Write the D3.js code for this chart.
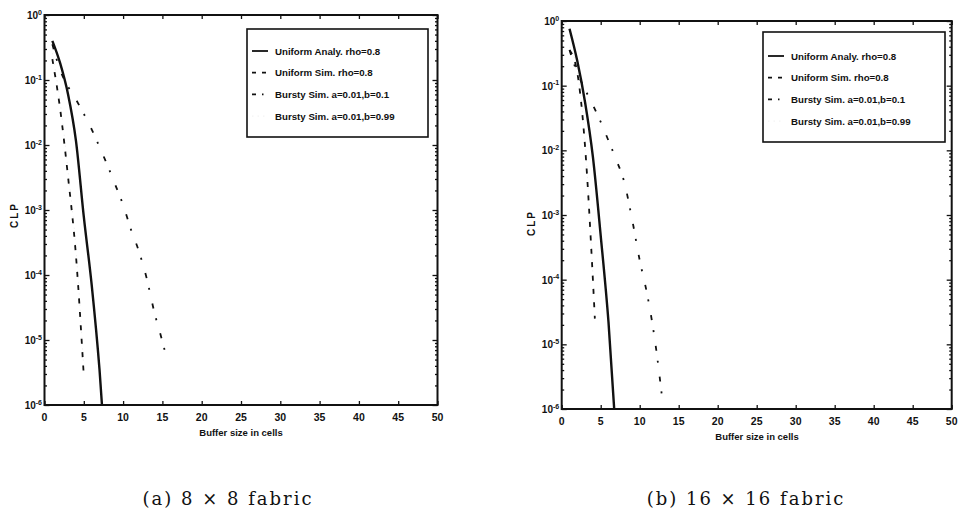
<!DOCTYPE html>
<html>
<head>
<meta charset="utf-8">
<script src="https://cdn.jsdelivr.net/npm/d3@7"></script>
<style>
  html, body { margin: 0; padding: 0; background: #fff; }
  svg { display: block; }
  .lab { font-family: "Liberation Sans", Arial, sans-serif; font-weight: bold; fill: #111; }
  .cap { font-family: "DejaVu Serif", serif; fill: #111; }
</style>
</head>
<body>
<svg id="fig" width="959" height="521"></svg>
<script>
// ---- shared labels ----
const seriesNames = [
  "Uniform Analy. rho=0.8",
  "Uniform Sim. rho=0.8",
  "Bursty Sim. a=0.01,b=0.1",
  "Bursty Sim. a=0.01,b=0.99"
];
const xTicks = [0, 5, 10, 15, 20, 25, 30, 35, 40, 45, 50];
const yTickExponents = [0, -1, -2, -3, -4, -5, -6];
const xLabel = "Buffer size in cells";
const yLabel = "CLP";
const captions = ["(a) 8 \u00d7 8 fabric", "(b) 16 \u00d7 16 fabric"];

// ---- (a) 8 x 8 fabric: cell loss probability vs buffer size ----
const a_analyX  = [1, 2, 3, 4, 5, 6, 7, 8];
const a_analyY  = [0.40, 0.18, 0.060, 0.0117, 7.9e-4, 7.1e-5, 3.5e-6, 6.3e-8];
const a_uniSimX = [1, 2, 3, 4, 5];
const a_uniSimY = [0.21, 0.035, 3.2e-3, 2.0e-4, 2.8e-6];
const a_burst1X = [1, 2, 3, 4, 5, 6, 7, 8, 9, 10, 11, 12, 13, 14, 15, 15.5];
const a_burst1Y = [0.355, 0.141, 0.0794, 0.0501, 0.0302, 0.0174, 0.00933, 0.0049,
                   0.00245, 0.0012, 5.0e-4, 2.34e-4, 8.9e-5, 2.6e-5, 9.5e-6, 5.5e-6];
const a_burst2X = [1, 2, 3, 4, 5];
const a_burst2Y = [0.26, 0.045, 4.0e-3, 2.6e-4, 3.5e-6];

// ---- (b) 16 x 16 fabric ----
const b_analyX  = [1, 2, 3, 4, 5, 6, 7];
const b_analyY  = [0.76, 0.24, 0.055, 7.9e-3, 4.8e-4, 2.2e-5, 3.2e-7];
const b_uniSimX = [1, 2, 3, 4, 4.25];
const b_uniSimY = [0.355, 0.158, 0.0112, 1.0e-4, 2.5e-5];
const b_burst1X = [1, 2, 3, 4, 5, 6, 7, 8, 9, 10, 11, 12, 13];
const b_burst1Y = [0.355, 0.158, 0.087, 0.050, 0.0275, 0.0141, 0.0071, 0.0033,
                   8.9e-4, 2.0e-4, 5.6e-5, 1.05e-5, 1.1e-6];
const b_burst2X = [1, 2, 3, 4];
const b_burst2Y = [0.40, 0.17, 0.013, 1.2e-4];

// line styles for the four series (MATLAB-like: solid, dashed, dash-dot, dotted)
const styles = [
  { dash: null,            width: 2.4, color: "#111" },
  { dash: "5,8.4",         width: 1.8, color: "#111" },
  { dash: "5,10,2,14",     width: 1.8, color: "#111" },
  { dash: "1.5,4",         width: 1.0, color: "#f0f0f0" }
];
const legendDash = [null, "4,6", "4,6,1.5,6", "1.5,4"];

const panels = [
  {
    id: "a",
    box: { left: 44.5, right: 437.5, top: 15, bottom: 405 },
    legend: { x: 247, y: 29, w: 181, h: 108, row0: 51, step: 21.7 },
    xLabelPos: [241, 436], yLabelPos: [14, 215], caption: [228, 505],
    series: [
      [a_analyX, a_analyY], [a_uniSimX, a_uniSimY],
      [a_burst1X, a_burst1Y], [a_burst2X, a_burst2Y]
    ]
  },
  {
    id: "b",
    box: { left: 561.7, right: 951.7, top: 21, bottom: 409 },
    legend: { x: 763, y: 32, w: 182, h: 110, row0: 56, step: 21.7 },
    xLabelPos: [757, 440], yLabelPos: [531, 223], caption: [746, 505],
    series: [
      [b_analyX, b_analyY], [b_uniSimX, b_uniSimY],
      [b_burst1X, b_burst1Y], [b_burst2X, b_burst2Y]
    ]
  }
];

const svg = d3.select("#fig");

panels.forEach((p, pi) => {
  const b = p.box;
  const x = d3.scaleLinear().domain([0, 50]).range([b.left, b.right]);
  const y = d3.scaleLog().domain([1e-6, 1]).range([b.bottom, b.top]);
  const g = svg.append("g");

  const clipId = "clip-" + p.id;
  svg.append("defs").append("clipPath").attr("id", clipId)
    .append("rect")
    .attr("x", b.left).attr("y", b.top)
    .attr("width", b.right - b.left).attr("height", b.bottom - b.top);

  // curves
  const line = d3.line()
    .x(d => x(d[0])).y(d => y(d[1]))
    .curve(d3.curveMonotoneX);
  const curves = g.append("g").attr("clip-path", `url(#${clipId})`);
  // draw the faint series first so the dark ones sit on top
  [3, 2, 1, 0].forEach(si => {
    const [xs, ys] = p.series[si];
    const pts = xs.map((v, i) => [v, ys[i]]);
    const st = styles[si];
    curves.append("path")
      .datum(pts)
      .attr("d", line)
      .attr("fill", "none")
      .attr("stroke", st.color)
      .attr("stroke-width", st.width)
      .attr("stroke-dasharray", st.dash)
      .attr("stroke-linejoin", "round");
  });

  // inward ticks on all four sides
  const axB = d3.axisBottom(x).tickValues(xTicks).tickSize(-4).tickFormat("");
  const axT = d3.axisTop(x).tickValues(xTicks).tickSize(-4).tickFormat("");
  const majors = yTickExponents.map(e => Math.pow(10, e));
  const minors = [];
  for (let e = -6; e < 0; e++) for (let m = 2; m <= 9; m++) minors.push(m * Math.pow(10, e));
  const axL = d3.axisLeft(y).tickValues(majors).tickSize(-5).tickFormat("");
  const axR = d3.axisRight(y).tickValues(majors).tickSize(-5).tickFormat("");
  const axLm = d3.axisLeft(y).tickValues(minors).tickSize(-2.5).tickFormat("");
  const axRm = d3.axisRight(y).tickValues(minors).tickSize(-2.5).tickFormat("");

  const addAxis = (ax, tx, ty) => {
    const a = g.append("g").attr("transform", `translate(${tx},${ty})`).call(ax);
    a.select(".domain").remove();
    a.selectAll("line").attr("stroke", "#111").attr("stroke-width", 1.3);
  };
  addAxis(axB, 0, b.bottom);
  addAxis(axT, 0, b.top);
  addAxis(axL, b.left, 0);
  addAxis(axR, b.right, 0);
  addAxis(axLm, b.left, 0);
  addAxis(axRm, b.right, 0);

  // frame
  g.append("rect")
    .attr("x", b.left).attr("y", b.top)
    .attr("width", b.right - b.left).attr("height", b.bottom - b.top)
    .attr("fill", "none").attr("stroke", "#111").attr("stroke-width", 2);

  // x tick labels
  g.append("g").selectAll("text").data(xTicks).join("text")
    .attr("class", "lab")
    .attr("x", d => x(d)).attr("y", b.bottom + 15.5)
    .attr("text-anchor", "middle")
    .attr("font-size", 10.5)
    .text(d => d);

  // y tick labels: 10 with a raised exponent
  const yl = g.append("g").selectAll("text").data(yTickExponents).join("text")
    .attr("class", "lab")
    .attr("x", b.left - 2.5).attr("y", d => y(Math.pow(10, d)) + 4)
    .attr("text-anchor", "end")
    .attr("font-size", 10);
  yl.append("tspan").text("10");
  yl.append("tspan").attr("dy", -4.5).attr("font-size", 7)
    .text(d => d === 0 ? "0" : "-" + Math.abs(d));

  // axis titles
  g.append("text").attr("class", "lab")
    .attr("x", p.xLabelPos[0]).attr("y", p.xLabelPos[1])
    .attr("text-anchor", "middle").attr("font-size", 9.5)
    .text(xLabel);
  g.append("text").attr("class", "lab")
    .attr("transform", `translate(${p.yLabelPos[0] + 3.5},${p.yLabelPos[1]}) rotate(-90)`)
    .attr("text-anchor", "middle").attr("font-size", 10)
    .attr("letter-spacing", 2)
    .text(yLabel);

  // legend
  const L = p.legend;
  const lg = g.append("g");
  lg.append("rect")
    .attr("x", L.x).attr("y", L.y).attr("width", L.w).attr("height", L.h)
    .attr("fill", "#fff").attr("stroke", "#111").attr("stroke-width", 1.6);
  seriesNames.forEach((name, i) => {
    const cy = L.row0 + i * L.step;
    lg.append("line")
      .attr("x1", L.x + 5).attr("x2", L.x + 21)
      .attr("y1", cy).attr("y2", cy)
      .attr("stroke", styles[i].color)
      .attr("stroke-width", i === 3 ? 1 : 1.8)
      .attr("stroke-dasharray", legendDash[i]);
    lg.append("text").attr("class", "lab")
      .attr("x", L.x + 28).attr("y", cy + 3.5)
      .attr("font-size", 9.7)
      .text(name);
  });

  // caption
  svg.append("text").attr("class", "cap")
    .attr("x", p.caption[0]).attr("y", p.caption[1])
    .attr("text-anchor", "middle")
    .attr("font-size", 18)
    .attr("letter-spacing", 2)
    .text(captions[pi]);
});
</script>
</body>
</html>
